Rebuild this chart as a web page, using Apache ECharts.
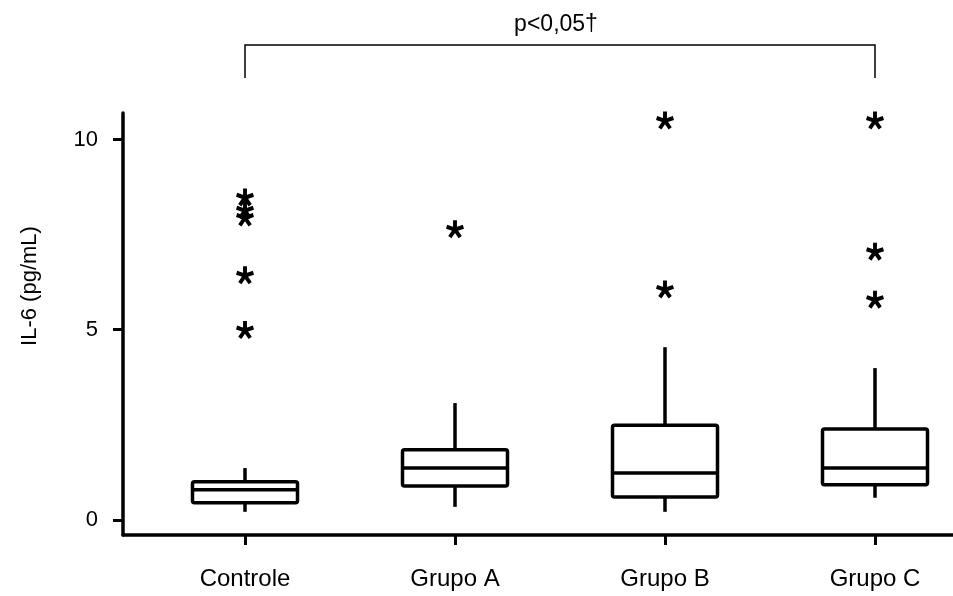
<!DOCTYPE html>
<html>
<head>
<meta charset="utf-8">
<script src="https://cdn.jsdelivr.net/npm/echarts@6/dist/echarts.min.js"></script>
<style>html,body{margin:0;padding:0;background:#fff;}#c{width:953px;height:596px;}</style>
</head>
<body>
<div id="c"></div>
<script>
const categories = ['Controle', 'Grupo A', 'Grupo B', 'Grupo C'];
const whiskerLow = [0.21, 0.34, 0.21, 0.58];
const q1 = [0.45, 0.89, 0.60, 0.92];
const median = [0.79, 1.36, 1.23, 1.36];
const q3 = [1.00, 1.84, 2.49, 2.39];
const whiskerHigh = [1.36, 3.07, 4.54, 3.99];
const outliersControle = [8.48, 8.14, 7.95, 6.43, 4.99];
const outliersGrupoA = [7.64];
const outliersGrupoB = [10.5, 6.06];
const outliersGrupoC = [10.5, 7.05, 5.79];
const yTicks = [0, 5, 10];
const yAxisTitle = 'IL-6 (pg/mL)';
const bracketText = 'p<0,05†';

const FONT = '"Liberation Sans", Arial, Helvetica, sans-serif';

// asterisk symbol path (5 arms)
function asteriskPath() {
  const hw = 0.22; let s = 'path://';
  for (let k = 0; k < 5; k++) {
    const a = (-90 + 72 * k) * Math.PI / 180;
    const dx = Math.cos(a), dy = Math.sin(a);
    const px = -dy * hw, py = dx * hw;
    const p = [[px, py], [px + dx, py + dy], [-px + dx, -py + dy], [-px, -py]];
    s += 'M' + p.map(q => (q[0] * 100).toFixed(2) + ' ' + (q[1] * 100).toFixed(2)).join(' L') + ' Z ';
  }
  return s;
}
const ASTER = asteriskPath();

const boxData = categories.map((c, i) => [i, whiskerLow[i], q1[i], median[i], q3[i], whiskerHigh[i]]);
const outlierGroups = [outliersControle, outliersGrupoA, outliersGrupoB, outliersGrupoC];
const outlierData = [];
outlierGroups.forEach((g, i) => g.forEach(v => outlierData.push([i, v])));

const chart = echarts.init(document.getElementById('c'), null, {renderer: 'canvas'});
const xMin = -122 / 210, xMax = xMin + 830 / 210;
const option = {
  backgroundColor: '#fff',
  animation: false,
  grid: {left: 123, right: 0, top: 113, bottom: 61},
  xAxis: {
    type: 'value', min: xMin, max: xMax,
    splitLine: {show: false},
    axisLine: {show: true, onZero: false, lineStyle: {color: '#000', width: 3.5}},
    axisTick: {show: true, length: 10, inside: false, lineStyle: {color: '#000', width: 3}, customValues: categories.map((c, i) => i)},
    axisLabel: {
      customValues: categories.map((c, i) => i),
      formatter: v => categories[Math.round(v)] || '',
      color: '#000', fontSize: 24, fontFamily: FONT, margin: 32
    }
  },
  yAxis: {
    type: 'value', min: -0.4, max: 10.7,
    splitLine: {show: false},
    axisLine: {show: true, onZero: false, lineStyle: {color: '#000', width: 3.5}},
    axisTick: {show: true, length: 10, lineStyle: {color: '#000', width: 3}, customValues: yTicks},
    axisLabel: {customValues: yTicks, color: '#000', fontSize: 22, fontFamily: FONT, margin: 25}
  },
  graphic: [{
    type: 'text', x: 30, y: 286, rotation: Math.PI / 2,
    style: {text: yAxisTitle, fill: '#000', font: '22px ' + FONT, textAlign: 'center', textVerticalAlign: 'middle'}
  }],
  series: [
    {
      type: 'custom',
      data: boxData,
      clip: false,
      renderItem: function (params, api) {
        const i = api.value(0);
        const w = api.size([1, 0])[0] * 0.5;
        const pLo = api.coord([i, api.value(1)]);
        const pQ1 = api.coord([i, api.value(2)]);
        const pMed = api.coord([i, api.value(3)]);
        const pQ3 = api.coord([i, api.value(4)]);
        const pHi = api.coord([i, api.value(5)]);
        const x = pQ1[0];
        const st = {stroke: '#000', lineWidth: 3.5, fill: null};
        return {
          type: 'group',
          children: [
            {type: 'line', shape: {x1: x, y1: pHi[1], x2: x, y2: pQ3[1]}, style: st},
            {type: 'line', shape: {x1: x, y1: pQ1[1], x2: x, y2: pLo[1]}, style: st},
            {type: 'rect', shape: {x: x - w / 2, y: pQ3[1], width: w, height: pQ1[1] - pQ3[1], r: 2}, style: {stroke: '#000', lineWidth: 3.5, fill: '#fff'}},
            {type: 'line', shape: {x1: x - w / 2, y1: pMed[1], x2: x + w / 2, y2: pMed[1]}, style: st}
          ]
        };
      }
    },
    {
      type: 'scatter',
      data: outlierData,
      symbol: ASTER,
      symbolSize: 18,
      itemStyle: {color: '#000', opacity: 1}
    },
    {
      type: 'custom',
      data: [[0, 3]],
      clip: false,
      silent: true,
      renderItem: function (params, api) {
        const a = api.value(0), b = api.value(1);
        const yTop = 12.49, yBot = 11.62, yTxt = 13.02;
        const p1 = api.coord([a, yBot]), p2 = api.coord([a, yTop]);
        const p3 = api.coord([b, yTop]), p4 = api.coord([b, yBot]);
        const pt = api.coord([(a + b) / 2, yTxt]);
        return {
          type: 'group',
          children: [
            {type: 'polyline', shape: {points: [p1, p2, p3, p4]}, style: {stroke: '#000', lineWidth: 1.5, fill: null}},
            {type: 'text', x: pt[0] - 4, y: pt[1], style: {text: bracketText, fill: '#000', font: '23px ' + FONT, textAlign: 'center', textVerticalAlign: 'middle'}}
          ]
        };
      }
    }
  ]
};
chart.setOption(option);
</script>
</body>
</html>
